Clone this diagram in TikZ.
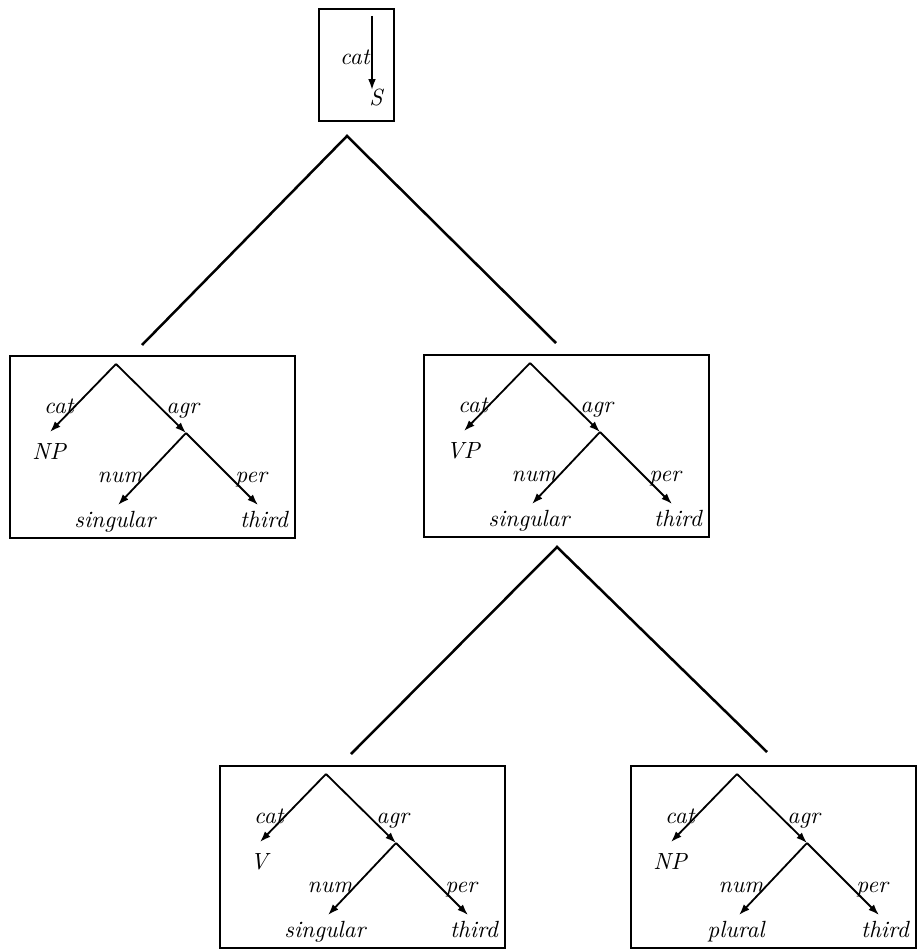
\documentclass[tikz,border=0pt]{standalone}
\usetikzlibrary{arrows.meta}
\tikzset{
  fsframe/.style={draw, line width=0.9pt, minimum width=125.4pt, minimum height=80.1pt, anchor=north west, inner sep=0pt},
  topframe/.style={draw, line width=0.9pt, minimum width=33pt, minimum height=49.3pt, anchor=north west, inner sep=0pt},
  treeline/.style={line width=1.1pt},
  featarrow/.style={line width=0.8pt, -{Latex[length=4.8pt,width=3.4pt]}},
  lab/.style={inner sep=0pt, font=\fontsize{10.3}{12.5}\selectfont\itshape},
}
\newcommand{\fstruct}[5]{%
\begin{scope}[shift={(#2,#3)}]
 \node[fsframe] (#1-box) at (0,0) {};
 \coordinate (#1-a) at (107,9);
 \coordinate (#1-c) at (41,77);
 \coordinate (#1-b) at (177,78);
 \coordinate (#1-n) at (109,150);
 \coordinate (#1-p) at (249,150);
 \draw[featarrow] (#1-a) -- (#1-c);
 \draw[featarrow] (#1-a) -- (#1-b);
 \draw[featarrow] (#1-b) -- (#1-n);
 \draw[featarrow] (#1-b) -- (#1-p);
 \node[lab, anchor=base east] (#1-lcat) at (65,58) {cat};
 \node[lab, anchor=base west] (#1-lagr) at (157,58) {agr};
 \node[lab, anchor=base east] (#1-lnum) at (134,127) {num};
 \node[lab, anchor=base west] (#1-lper) at (226,127) {per};
 \node[lab, anchor=base] (#1-vcat) at (40,104) {#4};
 \node[lab, anchor=base] (#1-vnum) at (106,172) {#5};
 \node[lab, anchor=base] (#1-vper) at (255,172) {third};
\end{scope}}
\begin{document}
\begin{tikzpicture}[x=0.44pt, y=-0.44pt]
\useasboundingbox (0,0) rectangle (916,949);
% top box
\node[topframe] (top-box) at (318,8) {};
\coordinate (top-s) at (372,16);
\coordinate (top-e) at (372,90);
\draw[featarrow] (top-s) -- (top-e);
\node[lab, anchor=base east] (top-lcat) at (370,65) {cat};
\node[lab, anchor=base] (top-val) at (376,106) {S};
% first level tree lines
\coordinate (r1-apex) at (347,136);
\coordinate (r1-l) at (142,345);
\coordinate (r1-r) at (556,343);
\draw[treeline] (r1-l) -- (r1-apex) -- (r1-r);
% feature structures
\fstruct{np1}{9}{355}{NP}{singular}
\fstruct{vp}{423}{354}{VP}{singular}
% second level tree lines
\coordinate (r2-apex) at (557,547);
\coordinate (r2-l) at (351,754);
\coordinate (r2-r) at (767,752);
\draw[treeline] (r2-l) -- (r2-apex) -- (r2-r);
\fstruct{v}{219}{765}{V}{singular}
\fstruct{np2}{630}{765}{NP}{plural}
\end{tikzpicture}
\end{document}
